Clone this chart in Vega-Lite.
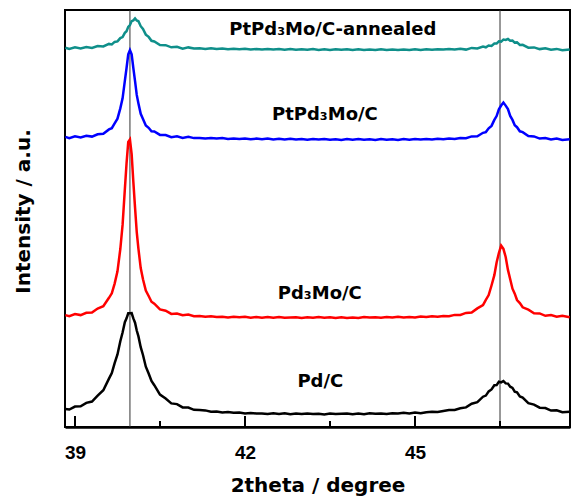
{
"$schema": "https://vega.github.io/schema/vega-lite/v6.json",
"width": 505, "height": 417,
"autosize": {"type": "none"},
"padding": {"left": 65, "top": 10, "right": 1, "bottom": 71},
"background": "white",
"config": {"view": {"stroke": "black", "strokeWidth": 2}, "axis": {"grid": false}},
"datasets": {
"pd": [{"x":38.83,"y":18.1},{"x":38.9,"y":17.5},{"x":39.0,"y":20.4},{"x":39.1,"y":20.7},{"x":39.2,"y":24.1},{"x":39.3,"y":25.5},{"x":39.4,"y":31.3},{"x":39.5,"y":36.8},{"x":39.6,"y":48.4},{"x":39.65,"y":54.0},{"x":39.7,"y":63.8},{"x":39.75,"y":72.6},{"x":39.8,"y":85.7},{"x":39.84,"y":94.5},{"x":39.88,"y":104.8},{"x":39.91,"y":108.7},{"x":39.94,"y":113.7},{"x":39.97,"y":113.8},{"x":40.0,"y":113.9},{"x":40.03,"y":108.6},{"x":40.06,"y":104.3},{"x":40.09,"y":96.5},{"x":40.12,"y":90.6},{"x":40.16,"y":79.8},{"x":40.2,"y":72.0},{"x":40.25,"y":60.3},{"x":40.3,"y":53.5},{"x":40.35,"y":46.0},{"x":40.4,"y":41.8},{"x":40.5,"y":32.4},{"x":40.6,"y":28.5},{"x":40.7,"y":23.6},{"x":40.8,"y":22.9},{"x":40.9,"y":19.6},{"x":41.0,"y":19.4},{"x":41.1,"y":17.2},{"x":41.2,"y":17.1},{"x":41.3,"y":16.6},{"x":41.4,"y":15.3},{"x":41.5,"y":15.4},{"x":41.6,"y":14.4},{"x":41.7,"y":15.0},{"x":41.8,"y":14.2},{"x":41.9,"y":14.4},{"x":42.0,"y":13.4},{"x":42.1,"y":14.1},{"x":42.2,"y":13.4},{"x":42.3,"y":13.6},{"x":42.4,"y":13.0},{"x":42.5,"y":13.8},{"x":42.6,"y":13.1},{"x":42.7,"y":13.8},{"x":42.8,"y":12.8},{"x":42.9,"y":13.5},{"x":43.0,"y":12.9},{"x":43.1,"y":13.6},{"x":43.2,"y":13.0},{"x":43.3,"y":13.3},{"x":43.4,"y":12.5},{"x":43.5,"y":13.4},{"x":43.6,"y":12.9},{"x":43.7,"y":13.3},{"x":43.8,"y":13.6},{"x":43.9,"y":12.8},{"x":44.0,"y":13.4},{"x":44.1,"y":12.8},{"x":44.2,"y":13.7},{"x":44.3,"y":13.2},{"x":44.4,"y":13.6},{"x":44.5,"y":13.0},{"x":44.6,"y":13.7},{"x":44.7,"y":13.4},{"x":44.8,"y":14.2},{"x":44.9,"y":13.6},{"x":45.0,"y":14.4},{"x":45.1,"y":13.8},{"x":45.2,"y":14.8},{"x":45.3,"y":15.3},{"x":45.4,"y":15.0},{"x":45.5,"y":16.0},{"x":45.6,"y":16.9},{"x":45.7,"y":17.1},{"x":45.8,"y":18.8},{"x":45.9,"y":19.6},{"x":46.0,"y":23.3},{"x":46.1,"y":24.8},{"x":46.2,"y":30.3},{"x":46.25,"y":31.4},{"x":46.3,"y":35.6},{"x":46.35,"y":37.6},{"x":46.4,"y":41.7},{"x":46.44,"y":41.9},{"x":46.48,"y":45.3},{"x":46.52,"y":44.6},{"x":46.56,"y":46.0},{"x":46.6,"y":43.6},{"x":46.64,"y":43.4},{"x":46.68,"y":40.3},{"x":46.72,"y":39.1},{"x":46.76,"y":35.4},{"x":46.8,"y":34.6},{"x":46.85,"y":30.6},{"x":46.9,"y":29.5},{"x":47.0,"y":23.8},{"x":47.1,"y":22.4},{"x":47.2,"y":19.3},{"x":47.3,"y":19.0},{"x":47.4,"y":16.4},{"x":47.5,"y":16.7},{"x":47.6,"y":14.7},{"x":47.73,"y":15.3}],
"pd3mo": [{"x":38.83,"y":111.9},{"x":38.9,"y":110.9},{"x":39.0,"y":112.9},{"x":39.1,"y":111.9},{"x":39.2,"y":114.2},{"x":39.3,"y":114.5},{"x":39.4,"y":118.5},{"x":39.5,"y":120.8},{"x":39.6,"y":129.2},{"x":39.65,"y":133.7},{"x":39.7,"y":143.4},{"x":39.75,"y":155.7},{"x":39.8,"y":178.0},{"x":39.84,"y":202.1},{"x":39.88,"y":237.6},{"x":39.91,"y":263.7},{"x":39.94,"y":285.1},{"x":39.97,"y":287.5},{"x":40.0,"y":273.0},{"x":40.03,"y":245.2},{"x":40.06,"y":219.3},{"x":40.09,"y":194.9},{"x":40.12,"y":178.1},{"x":40.16,"y":158.9},{"x":40.2,"y":147.8},{"x":40.25,"y":136.4},{"x":40.3,"y":131.0},{"x":40.35,"y":125.3},{"x":40.4,"y":123.3},{"x":40.5,"y":117.6},{"x":40.6,"y":116.3},{"x":40.7,"y":113.1},{"x":40.8,"y":113.4},{"x":40.9,"y":111.7},{"x":41.0,"y":112.4},{"x":41.1,"y":110.8},{"x":41.2,"y":111.1},{"x":41.3,"y":110.2},{"x":41.4,"y":110.8},{"x":41.5,"y":110.0},{"x":41.6,"y":110.2},{"x":41.7,"y":109.5},{"x":41.8,"y":110.2},{"x":41.9,"y":109.7},{"x":42.0,"y":110.3},{"x":42.1,"y":109.3},{"x":42.2,"y":110.0},{"x":42.3,"y":109.3},{"x":42.4,"y":110.0},{"x":42.5,"y":109.3},{"x":42.6,"y":110.0},{"x":42.7,"y":109.2},{"x":42.8,"y":109.6},{"x":42.9,"y":109.8},{"x":43.0,"y":109.0},{"x":43.1,"y":109.7},{"x":43.2,"y":109.2},{"x":43.3,"y":109.9},{"x":43.4,"y":109.3},{"x":43.5,"y":109.7},{"x":43.6,"y":108.9},{"x":43.7,"y":109.8},{"x":43.8,"y":109.1},{"x":43.9,"y":109.6},{"x":44.0,"y":109.1},{"x":44.1,"y":110.0},{"x":44.2,"y":109.4},{"x":44.3,"y":109.8},{"x":44.4,"y":109.3},{"x":44.5,"y":110.0},{"x":44.6,"y":109.4},{"x":44.7,"y":110.2},{"x":44.8,"y":109.4},{"x":44.9,"y":110.1},{"x":45.0,"y":109.5},{"x":45.1,"y":110.4},{"x":45.2,"y":109.9},{"x":45.3,"y":110.7},{"x":45.4,"y":110.2},{"x":45.5,"y":111.1},{"x":45.6,"y":110.8},{"x":45.7,"y":112.1},{"x":45.8,"y":112.1},{"x":45.9,"y":114.1},{"x":46.0,"y":114.4},{"x":46.1,"y":118.6},{"x":46.2,"y":122.0},{"x":46.25,"y":127.2},{"x":46.3,"y":131.9},{"x":46.35,"y":141.5},{"x":46.4,"y":151.9},{"x":46.44,"y":164.5},{"x":46.48,"y":174.0},{"x":46.52,"y":181.4},{"x":46.56,"y":178.2},{"x":46.6,"y":170.0},{"x":46.64,"y":157.1},{"x":46.68,"y":147.8},{"x":46.72,"y":138.3},{"x":46.76,"y":133.3},{"x":46.8,"y":127.0},{"x":46.85,"y":123.9},{"x":46.9,"y":119.7},{"x":47.0,"y":117.3},{"x":47.1,"y":113.8},{"x":47.2,"y":113.6},{"x":47.3,"y":111.2},{"x":47.4,"y":111.9},{"x":47.5,"y":110.3},{"x":47.6,"y":111.3},{"x":47.73,"y":109.8}],
"ptpd3mo": [{"x":38.83,"y":290.1},{"x":38.9,"y":288.9},{"x":39.0,"y":290.7},{"x":39.1,"y":289.6},{"x":39.2,"y":291.3},{"x":39.3,"y":290.4},{"x":39.4,"y":292.7},{"x":39.5,"y":293.3},{"x":39.6,"y":297.6},{"x":39.65,"y":298.8},{"x":39.7,"y":303.6},{"x":39.75,"y":308.3},{"x":39.8,"y":318.6},{"x":39.84,"y":328.6},{"x":39.88,"y":346.1},{"x":39.91,"y":359.0},{"x":39.94,"y":372.7},{"x":39.97,"y":376.9},{"x":40.0,"y":372.8},{"x":40.03,"y":358.9},{"x":40.06,"y":345.8},{"x":40.09,"y":332.1},{"x":40.12,"y":323.6},{"x":40.16,"y":313.2},{"x":40.2,"y":308.1},{"x":40.25,"y":301.5},{"x":40.3,"y":299.2},{"x":40.35,"y":295.7},{"x":40.4,"y":295.5},{"x":40.5,"y":292.1},{"x":40.6,"y":292.0},{"x":40.7,"y":289.8},{"x":40.8,"y":290.7},{"x":40.9,"y":289.0},{"x":41.0,"y":290.2},{"x":41.1,"y":288.9},{"x":41.2,"y":289.1},{"x":41.3,"y":288.4},{"x":41.4,"y":289.1},{"x":41.5,"y":288.4},{"x":41.6,"y":289.0},{"x":41.7,"y":288.1},{"x":41.8,"y":288.6},{"x":41.9,"y":288.0},{"x":42.0,"y":288.6},{"x":42.1,"y":287.7},{"x":42.2,"y":288.4},{"x":42.3,"y":287.8},{"x":42.4,"y":288.5},{"x":42.5,"y":287.6},{"x":42.6,"y":288.2},{"x":42.7,"y":287.5},{"x":42.8,"y":288.2},{"x":42.9,"y":287.5},{"x":43.0,"y":288.0},{"x":43.1,"y":287.3},{"x":43.2,"y":288.0},{"x":43.3,"y":287.5},{"x":43.4,"y":288.1},{"x":43.5,"y":287.2},{"x":43.6,"y":287.7},{"x":43.7,"y":287.1},{"x":43.8,"y":287.9},{"x":43.9,"y":287.2},{"x":44.0,"y":287.9},{"x":44.1,"y":287.2},{"x":44.2,"y":287.7},{"x":44.3,"y":287.1},{"x":44.4,"y":287.9},{"x":44.5,"y":287.2},{"x":44.6,"y":287.7},{"x":44.7,"y":287.0},{"x":44.8,"y":287.9},{"x":44.9,"y":287.3},{"x":45.0,"y":288.0},{"x":45.1,"y":287.4},{"x":45.2,"y":288.0},{"x":45.3,"y":287.5},{"x":45.4,"y":288.2},{"x":45.5,"y":287.8},{"x":45.6,"y":288.5},{"x":45.7,"y":288.1},{"x":45.8,"y":289.1},{"x":45.9,"y":288.7},{"x":46.0,"y":290.6},{"x":46.1,"y":290.7},{"x":46.2,"y":294.2},{"x":46.25,"y":294.9},{"x":46.3,"y":298.7},{"x":46.35,"y":301.1},{"x":46.4,"y":307.1},{"x":46.44,"y":310.9},{"x":46.48,"y":317.7},{"x":46.52,"y":321.5},{"x":46.56,"y":324.5},{"x":46.6,"y":321.4},{"x":46.64,"y":317.9},{"x":46.68,"y":311.1},{"x":46.72,"y":307.1},{"x":46.76,"y":301.7},{"x":46.8,"y":299.8},{"x":46.85,"y":295.7},{"x":46.9,"y":294.9},{"x":47.0,"y":291.0},{"x":47.1,"y":290.6},{"x":47.2,"y":288.4},{"x":47.3,"y":289.0},{"x":47.4,"y":287.5},{"x":47.5,"y":288.5},{"x":47.6,"y":287.1},{"x":47.73,"y":287.7}],
"annealed": [{"x":38.83,"y":379.3},{"x":38.9,"y":378.1},{"x":39.0,"y":379.7},{"x":39.1,"y":378.6},{"x":39.2,"y":380.0},{"x":39.3,"y":379.0},{"x":39.4,"y":381.0},{"x":39.5,"y":380.6},{"x":39.6,"y":383.1},{"x":39.65,"y":382.6},{"x":39.7,"y":385.1},{"x":39.75,"y":385.6},{"x":39.8,"y":388.9},{"x":39.84,"y":390.0},{"x":39.88,"y":394.2},{"x":39.91,"y":395.8},{"x":39.94,"y":400.1},{"x":39.97,"y":401.9},{"x":40.0,"y":405.9},{"x":40.03,"y":406.6},{"x":40.06,"y":408.5},{"x":40.09,"y":406.5},{"x":40.12,"y":405.7},{"x":40.16,"y":400.8},{"x":40.2,"y":398.0},{"x":40.25,"y":392.4},{"x":40.3,"y":390.1},{"x":40.35,"y":386.2},{"x":40.4,"y":385.5},{"x":40.5,"y":382.0},{"x":40.6,"y":381.8},{"x":40.7,"y":379.7},{"x":40.8,"y":380.2},{"x":40.9,"y":378.4},{"x":41.0,"y":379.6},{"x":41.1,"y":378.5},{"x":41.2,"y":378.8},{"x":41.3,"y":378.1},{"x":41.4,"y":378.7},{"x":41.5,"y":377.9},{"x":41.6,"y":378.4},{"x":41.7,"y":377.7},{"x":41.8,"y":378.3},{"x":41.9,"y":377.7},{"x":42.0,"y":378.3},{"x":42.1,"y":377.5},{"x":42.2,"y":378.1},{"x":42.3,"y":377.4},{"x":42.4,"y":378.0},{"x":42.5,"y":377.5},{"x":42.6,"y":378.0},{"x":42.7,"y":377.3},{"x":42.8,"y":377.9},{"x":42.9,"y":377.2},{"x":43.0,"y":377.8},{"x":43.1,"y":377.3},{"x":43.2,"y":377.9},{"x":43.3,"y":377.1},{"x":43.4,"y":377.7},{"x":43.5,"y":377.1},{"x":43.6,"y":377.7},{"x":43.7,"y":377.2},{"x":43.8,"y":377.7},{"x":43.9,"y":377.0},{"x":44.0,"y":377.7},{"x":44.1,"y":377.0},{"x":44.2,"y":377.6},{"x":44.3,"y":377.1},{"x":44.4,"y":377.7},{"x":44.5,"y":377.0},{"x":44.6,"y":377.6},{"x":44.7,"y":377.0},{"x":44.8,"y":377.6},{"x":44.9,"y":377.1},{"x":45.0,"y":377.8},{"x":45.1,"y":377.1},{"x":45.2,"y":377.7},{"x":45.3,"y":377.2},{"x":45.4,"y":377.8},{"x":45.5,"y":377.4},{"x":45.6,"y":378.1},{"x":45.7,"y":377.5},{"x":45.8,"y":378.2},{"x":45.9,"y":377.4},{"x":46.0,"y":379.1},{"x":46.1,"y":378.5},{"x":46.2,"y":380.4},{"x":46.25,"y":379.7},{"x":46.3,"y":381.5},{"x":46.35,"y":381.1},{"x":46.4,"y":383.5},{"x":46.44,"y":383.4},{"x":46.48,"y":385.7},{"x":46.52,"y":385.4},{"x":46.56,"y":387.4},{"x":46.6,"y":387.0},{"x":46.64,"y":388.0},{"x":46.68,"y":386.2},{"x":46.72,"y":386.5},{"x":46.76,"y":384.4},{"x":46.8,"y":384.6},{"x":46.85,"y":382.1},{"x":46.9,"y":382.2},{"x":47.0,"y":379.3},{"x":47.1,"y":379.6},{"x":47.2,"y":377.9},{"x":47.3,"y":378.7},{"x":47.4,"y":377.3},{"x":47.5,"y":378.1},{"x":47.6,"y":376.7},{"x":47.73,"y":377.6}],
"refs": [{"x":39.97},{"x":46.5}],
"major": [{"x":39},{"x":42},{"x":45}],
"minor": [{"x":40.5},{"x":43.5},{"x":46.5}],
"labels": [{"x":43.55,"y":397,"t":"PtPd₃Mo/C-annealed"},{"x":43.41,"y":312,"t":"PtPd₃Mo/C"},{"x":43.32,"y":133,"t":"Pd₃Mo/C"},{"x":43.33,"y":45,"t":"Pd/C"}]
},
"layer": [
{"data": {"name": "refs"}, "mark": {"type": "rule", "color": "#333333", "strokeWidth": 1},
 "encoding": {"x": {"field": "x", "type": "quantitative", "scale": {"domain": [38.824, 47.735], "nice": false, "zero": false},
   "axis": {"values": [39, 42, 45], "format": "d", "orient": "bottom", "title": "2theta / degree", "labelFont": "Liberation Sans", "labelFontSize": 19, "labelFontWeight": "bold", "labelColor": "black", "ticks": false, "labelPadding": 16, "domainColor": "black", "domainWidth": 2.5, "titleFont": "DejaVu Sans", "titleFontSize": 20, "titleFontWeight": "bold", "titleColor": "black", "titleY": 58, "titleBaseline": "middle", "labelFlush": false, "grid": false}}}},
{"data": {"name": "major"}, "mark": {"type": "rule", "color": "black", "strokeWidth": 2},
 "encoding": {"x": {"field": "x", "type": "quantitative"}, "y": {"datum": 0, "type": "quantitative"}, "y2": {"datum": 11}}},
{"data": {"name": "minor"}, "mark": {"type": "rule", "color": "black", "strokeWidth": 2},
 "encoding": {"x": {"field": "x", "type": "quantitative"}, "y": {"datum": 0, "type": "quantitative"}, "y2": {"datum": 6}}},
{"data": {"name": "pd"}, "mark": {"type": "line", "color": "black", "strokeWidth": 2.5},
 "encoding": {"x": {"field": "x", "type": "quantitative"},
  "y": {"field": "y", "type": "quantitative", "scale": {"domain": [0, 417], "nice": false, "zero": false},
   "axis": {"title": "Intensity / a.u.", "labels": false, "ticks": false, "domain": false, "grid": false, "titleFont": "DejaVu Sans", "titleFontSize": 20, "titleFontWeight": "bold", "titleColor": "black", "titleX": -42, "titleY": 201, "titleBaseline": "middle", "titleAngle": -90}}}},
{"data": {"name": "pd3mo"}, "mark": {"type": "line", "color": "#ff0000", "strokeWidth": 2.5},
 "encoding": {"x": {"field": "x", "type": "quantitative"}, "y": {"field": "y", "type": "quantitative"}}},
{"data": {"name": "ptpd3mo"}, "mark": {"type": "line", "color": "#0000ff", "strokeWidth": 2.5},
 "encoding": {"x": {"field": "x", "type": "quantitative"}, "y": {"field": "y", "type": "quantitative"}}},
{"data": {"name": "annealed"}, "mark": {"type": "line", "color": "#0f8f8a", "strokeWidth": 2.5},
 "encoding": {"x": {"field": "x", "type": "quantitative"}, "y": {"field": "y", "type": "quantitative"}}},
{"data": {"name": "labels"}, "mark": {"type": "text", "font": "DejaVu Sans", "fontSize": 18, "fontWeight": "bold", "color": "black", "align": "center", "baseline": "middle"},
 "encoding": {"x": {"field": "x", "type": "quantitative"}, "y": {"field": "y", "type": "quantitative"}, "text": {"field": "t"}}}
]
}
